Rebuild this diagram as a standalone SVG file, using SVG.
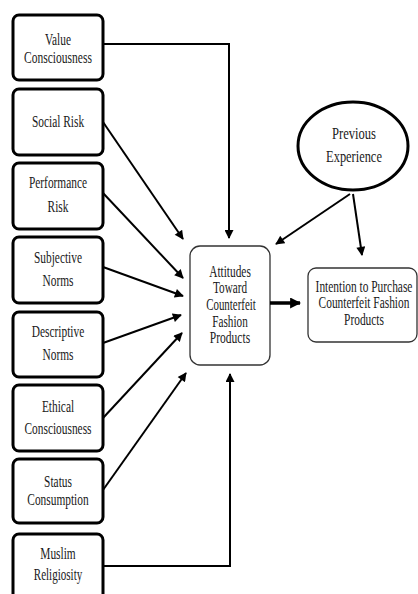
<svg xmlns="http://www.w3.org/2000/svg" width="418" height="594" viewBox="0 0 418 594">
<style>
.box{fill:#fff;stroke:#000;stroke-width:3}
.soft{fill:#fff;stroke:#333;stroke-width:1.3}
text{font-family:"Liberation Serif","Times New Roman",serif;font-size:17px;fill:#1a1a1a;text-anchor:middle}
.r text{font-size:16px}
.c line,.c polyline{stroke:#000;stroke-width:2;fill:none;marker-end:url(#ah)}
</style>
<defs>
<marker id="ah" viewBox="0 0 10 10" refX="9" refY="5" markerWidth="10" markerHeight="9" markerUnits="userSpaceOnUse" orient="auto"><path d="M0,0L10,5L0,10z" fill="#000"/></marker>
<marker id="ah2" viewBox="0 0 10 10" refX="9" refY="5" markerWidth="11" markerHeight="11" markerUnits="userSpaceOnUse" orient="auto"><path d="M0,0L10,5L0,10z" fill="#000"/></marker>
</defs>
<g id="n-value" class="r"><rect class="box" x="13" y="15" width="90" height="65" rx="6"/><text transform="translate(58 45) scale(.71 1)">Value</text><text transform="translate(58 63) scale(.72 1)">Consciousness</text></g>
<g id="n-social"><rect class="box" x="13" y="89" width="90" height="66" rx="6"/><text transform="translate(58 127) scale(.67 1)">Social Risk</text></g>
<g id="n-perf"><rect class="box" x="13" y="163" width="90" height="66" rx="6"/><text transform="translate(58 188) scale(.67 1)">Performance</text><text transform="translate(58 212) scale(.67 1)">Risk</text></g>
<g id="n-subj"><rect class="box" x="13" y="237" width="90" height="66" rx="6"/><text transform="translate(58 263) scale(.67 1)">Subjective</text><text transform="translate(58 286) scale(.67 1)">Norms</text></g>
<g id="n-desc"><rect class="box" x="13" y="312" width="90" height="65" rx="6"/><text transform="translate(58 337) scale(.67 1)">Descriptive</text><text transform="translate(58 360) scale(.67 1)">Norms</text></g>
<g id="n-ethical"><rect class="box" x="13" y="385" width="90" height="66" rx="6"/><text transform="translate(58 412) scale(.67 1)">Ethical</text><text transform="translate(58 434) scale(.67 1)">Consciousness</text></g>
<g id="n-status"><rect class="box" x="13" y="459" width="90" height="64" rx="6"/><text transform="translate(58 487) scale(.67 1)">Status</text><text transform="translate(58 505) scale(.67 1)">Consumption</text></g>
<g id="n-muslim"><rect class="box" x="13" y="534" width="90" height="66" rx="6"/><text transform="translate(58 559) scale(.67 1)">Muslim</text><text transform="translate(58 580) scale(.65 1)">Religiosity</text></g>
<g id="n-att" class="r"><rect class="soft" x="190" y="246" width="80" height="119" rx="10"/><text transform="translate(230 277) scale(.71 1)">Attitudes</text><text transform="translate(230 293) scale(.7 1)">Toward</text><text transform="translate(231 310) scale(.68 1)">Counterfeit</text><text transform="translate(230 327) scale(.7 1)">Fashion</text><text transform="translate(230 343) scale(.72 1)">Products</text></g>
<g id="n-int" class="r"><rect class="soft" x="308" y="268" width="109" height="74" rx="8"/><text transform="translate(364 292) scale(.713 1)">Intention to Purchase</text><text transform="translate(364 308) scale(.713 1)">Counterfeit Fashion</text><text transform="translate(364 325) scale(.713 1)">Products</text></g>
<g id="n-prev"><ellipse cx="353" cy="146" rx="55" ry="44" fill="#fff" stroke="#000" stroke-width="3"/><text transform="translate(354 139) scale(.74 1)">Previous</text><text transform="translate(354 162) scale(.73 1)">Experience</text></g>
<g id="connectors" class="c">
<polyline points="103,44 229,44 229,238"/>
<line x1="103" y1="122" x2="183" y2="239"/>
<line x1="103" y1="193" x2="183" y2="278"/>
<line x1="103" y1="267" x2="183" y2="296"/>
<line x1="103" y1="343" x2="181" y2="315"/>
<line x1="103" y1="418" x2="182" y2="333"/>
<line x1="103" y1="490" x2="186" y2="373"/>
<polyline points="103,566 230,566 230,374"/>
<line x1="350" y1="194" x2="276" y2="244"/>
<line x1="353" y1="194" x2="362" y2="255"/>
<line x1="270" y1="303" x2="300" y2="303" style="stroke-width:3.5;marker-end:url(#ah2)"/>
</g>
</svg>
